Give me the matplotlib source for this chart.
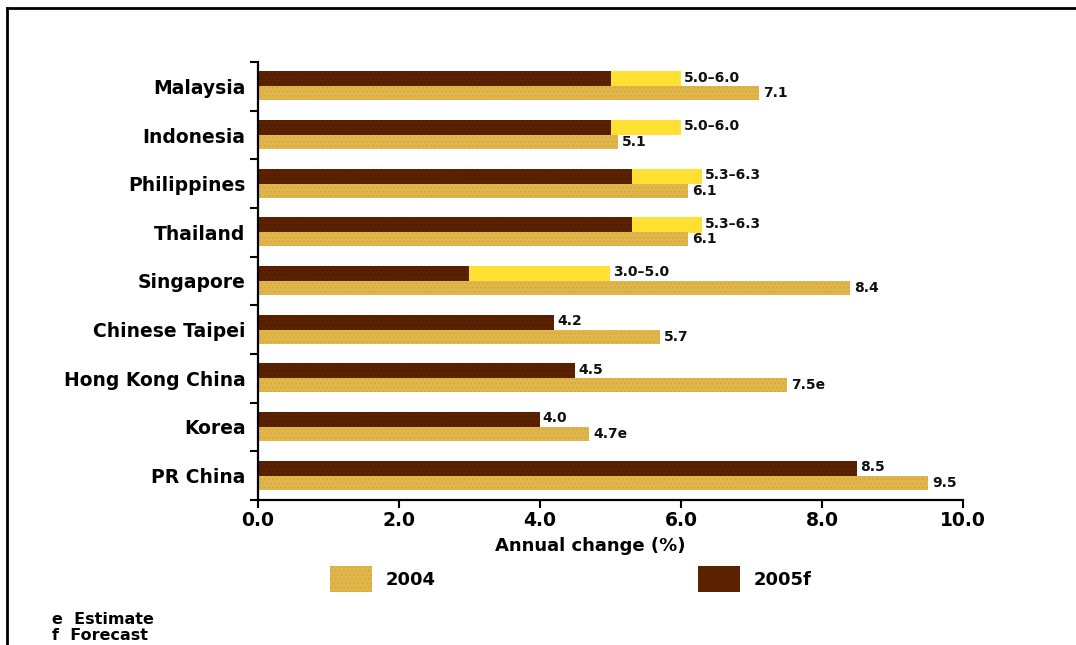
import matplotlib
matplotlib.use("Agg")
import matplotlib.pyplot as plt
from matplotlib.lines import Line2D
from matplotlib.patches import Rectangle

# Real GDP growth, annual change (%)
countries = ["Malaysia", "Indonesia", "Philippines", "Thailand", "Singapore",
             "Chinese Taipei", "Hong Kong China", "Korea", "PR China"]
gdp_2004 = [7.1, 5.1, 6.1, 6.1, 8.4, 5.7, 7.5, 4.7, 9.5]
flag_2004 = ["", "", "", "", "", "", "e", "e", ""]          # e = estimate
fcst_low = [5.0, 5.0, 5.3, 5.3, 3.0, 4.2, 4.5, 4.0, 8.5]      # 2005 forecast
fcst_high = [6.0, 6.0, 6.3, 6.3, 5.0, None, None, None, None]  # top of range
x_ticks = [0.0, 2.0, 4.0, 6.0, 8.0, 10.0]

C_2004 = "#e0b64a"
C_2005 = "#5c2200"
C_RANGE = "#ffe033"
FONT = "DejaVu Sans"

plt.rcParams["font.family"] = FONT
plt.rcParams["hatch.linewidth"] = 0.6

W, H = 1076, 645
fig = plt.figure(figsize=(W / 100, H / 100), dpi=100)
ax = fig.add_axes([258 / W, 1 - 500 / H, (963 - 258) / W, (500 - 62) / H])

ys = list(range(len(countries)))
y_05 = [y - 0.15 for y in ys]
y_04 = [y + 0.145 for y in ys]

# 2005 forecast: dark bar to the low end, yellow extension for the range
ax.barh(y_05, fcst_low, height=0.31, color=C_2005, edgecolor="#4a1a00",
        linewidth=0, hatch="....")
for y, lo, hi in zip(y_05, fcst_low, fcst_high):
    if hi is not None:
        ax.barh(y, hi - lo, left=lo, height=0.31, color=C_RANGE, linewidth=0)
ax.barh(y_04, gdp_2004, height=0.29, color=C_2004, edgecolor="#d2a53a",
        linewidth=0, hatch="....")

lab_kw = dict(fontsize=10, fontweight="bold", va="center", ha="left",
              textcoords="offset points", color="#111111")
for y, lo, hi in zip(y_05, fcst_low, fcst_high):
    end = hi if hi is not None else lo
    txt = f"{lo:.1f}\u2013{hi:.1f}" if hi is not None else f"{lo:.1f}"
    ax.annotate(txt, (end, y), xytext=(2, 1), **lab_kw)
for y, v, fl in zip(y_04, gdp_2004, flag_2004):
    ax.annotate(f"{v:.1f}{fl}", (v, y), xytext=(3, 0), **lab_kw)

ax.set_xlim(0, 10)
ax.set_ylim(len(countries) - 0.5, -0.5)
ax.set_xticks(x_ticks)
ax.set_xticklabels([f"{t:.1f}" for t in x_ticks], fontsize=13.5, fontweight="bold")
ax.set_yticks(ys)
ax.set_yticklabels(countries, fontsize=13.5, fontweight="bold")
ax.set_yticks([y + 0.5 for y in ys] + [-0.5], minor=True)
ax.tick_params(axis="y", which="major", length=0, pad=9)
ax.tick_params(axis="y", which="minor", length=6, width=1.5, direction="out")
ax.tick_params(axis="x", length=6, width=1.5, direction="out", pad=2)
for side in ("top", "right"):
    ax.spines[side].set_visible(False)
for side in ("left", "bottom"):
    ax.spines[side].set_linewidth(1.6)
ax.set_xlabel("Annual change (%)", fontsize=13, fontweight="bold", labelpad=4)
ax.xaxis.set_label_coords(0.471, -0.085)

# legend drawn by hand below the axis
def legend_item(x0, color, hatch, text):
    fig.add_artist(Rectangle((x0 / W, 1 - 592 / H), 42 / W, 26 / H,
                             transform=fig.transFigure, facecolor=color,
                             edgecolor="#d2a53a" if hatch else C_2005,
                             linewidth=0, hatch=hatch))
    fig.text((x0 + 56) / W, 1 - 580 / H, text, fontsize=13,
             fontweight="bold", va="center", ha="left")

legend_item(330, C_2004, "....", "2004")
legend_item(698, C_2005, None, "2005f")

fig.text(52 / W, 1 - 619 / H, "e  Estimate", fontsize=11.5, fontweight="bold",
         va="center")
fig.text(52 / W, 1 - 636 / H, "f  Forecast", fontsize=11.5, fontweight="bold",
         va="center")

# page frame
fig.add_artist(Line2D([7 / W, 7 / W], [0, 1 - 8 / H], transform=fig.transFigure,
                      color="black", lw=2))
fig.add_artist(Line2D([7 / W, 1], [1 - 8 / H, 1 - 8 / H], transform=fig.transFigure,
                      color="black", lw=2))

fig.savefig("out.png", dpi=100, facecolor="white")
